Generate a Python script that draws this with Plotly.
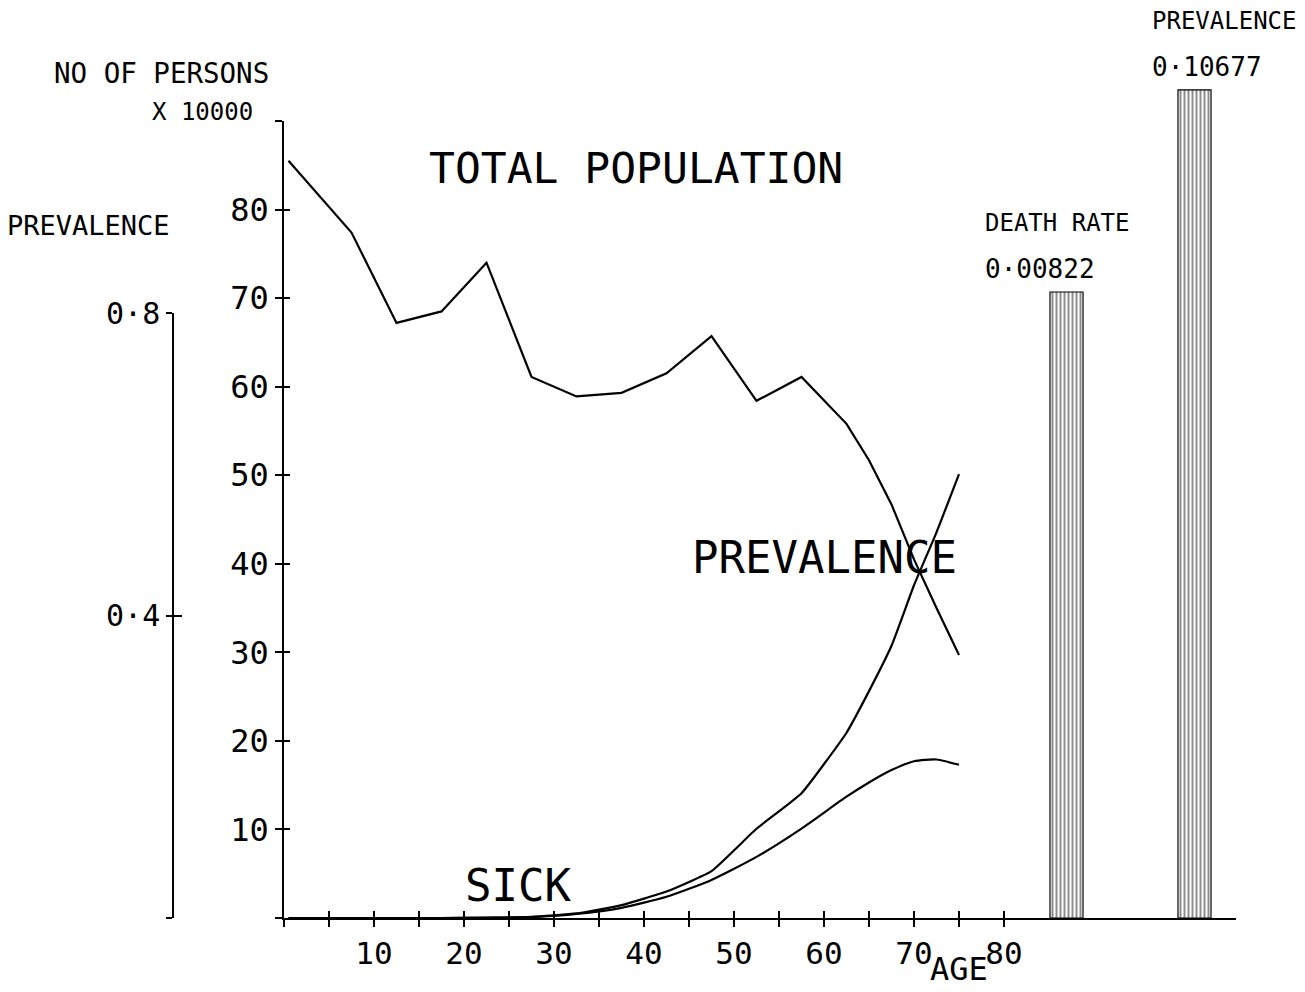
import plotly.graph_objects as go

# ---- data -------------------------------------------------------------
AGES = [0.5, 7.5, 12.5, 17.5, 22.5, 27.5, 32.5, 37.5, 42.5, 47.5,
        52.5, 57.5, 62.5, 65, 67.5, 70, 72.5, 75]

# number of persons (x 10000)
TOTAL_POPULATION = [85.5, 77.4, 67.2, 68.5, 74.0, 61.1, 58.9, 59.3, 61.5, 65.7,
                    58.4, 61.1, 55.8, 51.7, 46.7, 40.5, 35.0, 29.7]
SICK = [0, 0, 0, 0, 0.03, 0.1, 0.45, 1.15, 2.4, 4.3,
        6.9, 10.1, 13.7, 15.3, 16.7, 17.7, 17.9, 17.3]

# prevalence (fraction)
PREVALENCE = [0, 0, 0, 0, 0.0005, 0.0015, 0.006, 0.017, 0.035, 0.062,
              0.118, 0.165, 0.245, 0.30, 0.36, 0.44, 0.51, 0.587]

# summary bars
SUMMARY_NAMES = ["DEATH RATE", "PREVALENCE"]
SUMMARY_LABELS = ["0·00822", "0·10677"]
DEATH_RATE = 0.00822
OVERALL_PREVALENCE = 0.10677

AGE_TICKS = list(range(0, 85, 5))
AGE_TICK_LABELS = [str(a) if a % 10 == 0 and a > 0 else "" for a in AGE_TICKS]
PERSON_TICKS = list(range(0, 100, 10))
PERSON_TICK_LABELS = [str(v) if 0 < v < 90 else "" for v in PERSON_TICKS]
PREV_TICKS = [0, 0.4, 0.8]
PREV_TICK_LABELS = ["", "0·4", "0·8"]

# ---- geometry (pixels on a 1305 x 992 page) ---------------------------
W, H = 1305, 992
FONT = "DejaVu Sans Mono"
INK = "black"


def px(x):
    return x / W


def py(y):
    return 1 - y / H


x_dom = [px(284), px(1236)]
x_range = [0, (1236 - 284) / 9.0]
y_dom = [py(918), py(121)]
y_range = [0, 90]
prev_dom = [py(918), py(313)]
bar_x_dom = [px(1002.5), px(1258.5)]
bar_y_dom = [py(918), 1.0]

fig = go.Figure()

fig.add_trace(go.Scatter(x=AGES, y=TOTAL_POPULATION, mode="lines",
                         line=dict(color=INK, width=2.2),
                         xaxis="x", yaxis="y",
                         name="TOTAL POPULATION", showlegend=False))
fig.add_trace(go.Scatter(x=AGES, y=SICK, mode="lines",
                         line=dict(color=INK, width=2.2, shape="spline", smoothing=0.6),
                         xaxis="x", yaxis="y", name="SICK", showlegend=False))
fig.add_trace(go.Scatter(x=AGES, y=PREVALENCE, mode="lines",
                         line=dict(color=INK, width=2.2, shape="spline", smoothing=0.4),
                         xaxis="x", yaxis="y3",
                         name="PREVALENCE", showlegend=False))

# empty traces so the tick-only overlay axes get drawn (crossing tick marks)
fig.add_trace(go.Scatter(x=[], y=[], xaxis="x2", yaxis="y2",
                         hoverinfo="skip", showlegend=False))
fig.add_trace(go.Scatter(x=[], y=[], xaxis="x", yaxis="y4",
                         hoverinfo="skip", showlegend=False))

bar_style = dict(color="white",
                 line=dict(color=INK, width=1.2),
                 pattern=dict(shape="|", size=4, solidity=0.45,
                              fgcolor=INK, bgcolor="white"))
fig.add_trace(go.Bar(x=[SUMMARY_NAMES[0]], y=[DEATH_RATE], width=0.258,
                     marker=bar_style, xaxis="x3", yaxis="y5",
                     showlegend=False))
fig.add_trace(go.Bar(x=[SUMMARY_NAMES[1]], y=[OVERALL_PREVALENCE], width=0.258,
                     marker=bar_style, xaxis="x3", yaxis="y6",
                     showlegend=False))

axis_common = dict(showgrid=False, zeroline=False, linecolor=INK, linewidth=1.5,
                   tickcolor=INK, tickwidth=1.5, fixedrange=True, automargin=False,
                   tickfont=dict(family=FONT, size=32, color=INK))
hidden = dict(visible=False, fixedrange=True, automargin=False,
              showgrid=False, zeroline=False)

fig.update_layout(
    width=W, height=H,
    margin=dict(l=0, r=0, t=0, b=0, autoexpand=False),
    paper_bgcolor="white", plot_bgcolor="rgba(0,0,0,0)",
    showlegend=False,
    barmode="overlay",
    xaxis=dict(axis_common, domain=x_dom, range=x_range, anchor="y",
               tickmode="array", tickvals=AGE_TICKS, ticktext=AGE_TICK_LABELS,
               ticks="outside", ticklen=7, showline=True,
               ticklabelstandoff=0,
               tickfont=dict(family=FONT, size=31, color=INK)),
    xaxis2=dict(axis_common, overlaying="x", range=x_range, anchor="y",
                tickmode="array", tickvals=AGE_TICKS, ticks="inside", ticklen=7,
                showline=False, showticklabels=False),
    yaxis=dict(axis_common, domain=y_dom, range=y_range, anchor="x",
               tickmode="array", tickvals=PERSON_TICKS, ticktext=PERSON_TICK_LABELS,
               ticks="outside", ticklen=7, showline=True),
    yaxis2=dict(axis_common, overlaying="y", range=y_range, anchor="x",
                tickmode="array", tickvals=PERSON_TICKS, ticks="inside", ticklen=6,
                showline=False, showticklabels=False),
    yaxis3=dict(axis_common, domain=prev_dom, range=[0, 0.8], anchor="free",
                position=px(173), side="left",
                tickmode="array", tickvals=PREV_TICKS, ticktext=PREV_TICK_LABELS,
                ticks="outside", ticklen=6, showline=True,
                tickfont=dict(family=FONT, size=30, color=INK)),
    yaxis4=dict(axis_common, overlaying="y3", range=[0, 0.8], anchor="free",
                position=px(173), side="left",
                tickmode="array", tickvals=PREV_TICKS[1:], ticks="inside", ticklen=8,
                showline=False, showticklabels=False),
    xaxis3=dict(hidden, domain=bar_x_dom, anchor="y5", type="category",
                categoryorder="array", categoryarray=SUMMARY_NAMES,
                range=[-0.5, 1.5]),
    yaxis5=dict(hidden, domain=bar_y_dom, anchor="x3", range=[0, 0.012054]),
    yaxis6=dict(hidden, domain=bar_y_dom, anchor="x3", overlaying="y5",
                range=[0, 0.11837]),
)


def note(text, size, **kw):
    fig.add_annotation(text=text, showarrow=False,
                       font=dict(family=FONT, size=size, color=INK), **kw)


# axis captions
note("NO OF PERSONS", 27.5, xref="paper", yref="paper", x=px(52), y=py(73),
     xanchor="left", yanchor="middle")
note("X 10000", 24, xref="paper", yref="paper", x=px(150), y=py(112),
     xanchor="left", yanchor="middle")
note("PREVALENCE", 27, xref="paper", yref="paper", x=px(5), y=py(226),
     xanchor="left", yanchor="middle")
note("AGE", 32, xref="x", yref="paper", x=75, y=py(990),
     xanchor="center", yanchor="bottom")

# curve labels
note("TOTAL POPULATION", 43, xref="x", yref="y", x=39.1, y=84.7,
     xanchor="center", yanchor="middle")
note("PREVALENCE", 44, xref="x", yref="y", x=60.0, y=40.7,
     xanchor="center", yanchor="middle")
note("SICK", 44, xref="x", yref="y", x=26.0, y=3.7,
     xanchor="center", yanchor="middle")

# summary bar labels
for name, label, val, yref, dx in [
        (SUMMARY_NAMES[0], SUMMARY_LABELS[0], DEATH_RATE, "y5", -84),
        (SUMMARY_NAMES[1], SUMMARY_LABELS[1], OVERALL_PREVALENCE, "y6", -45)]:
    note(name, 24, xref="x3", yref=yref, x=name, y=val,
         xanchor="left", yanchor="middle", xshift=dx, yshift=69)
    note(label, 26, xref="x3", yref=yref, x=name, y=val,
         xanchor="left", yanchor="middle", xshift=dx, yshift=23)

fig.write_html("out.html")
